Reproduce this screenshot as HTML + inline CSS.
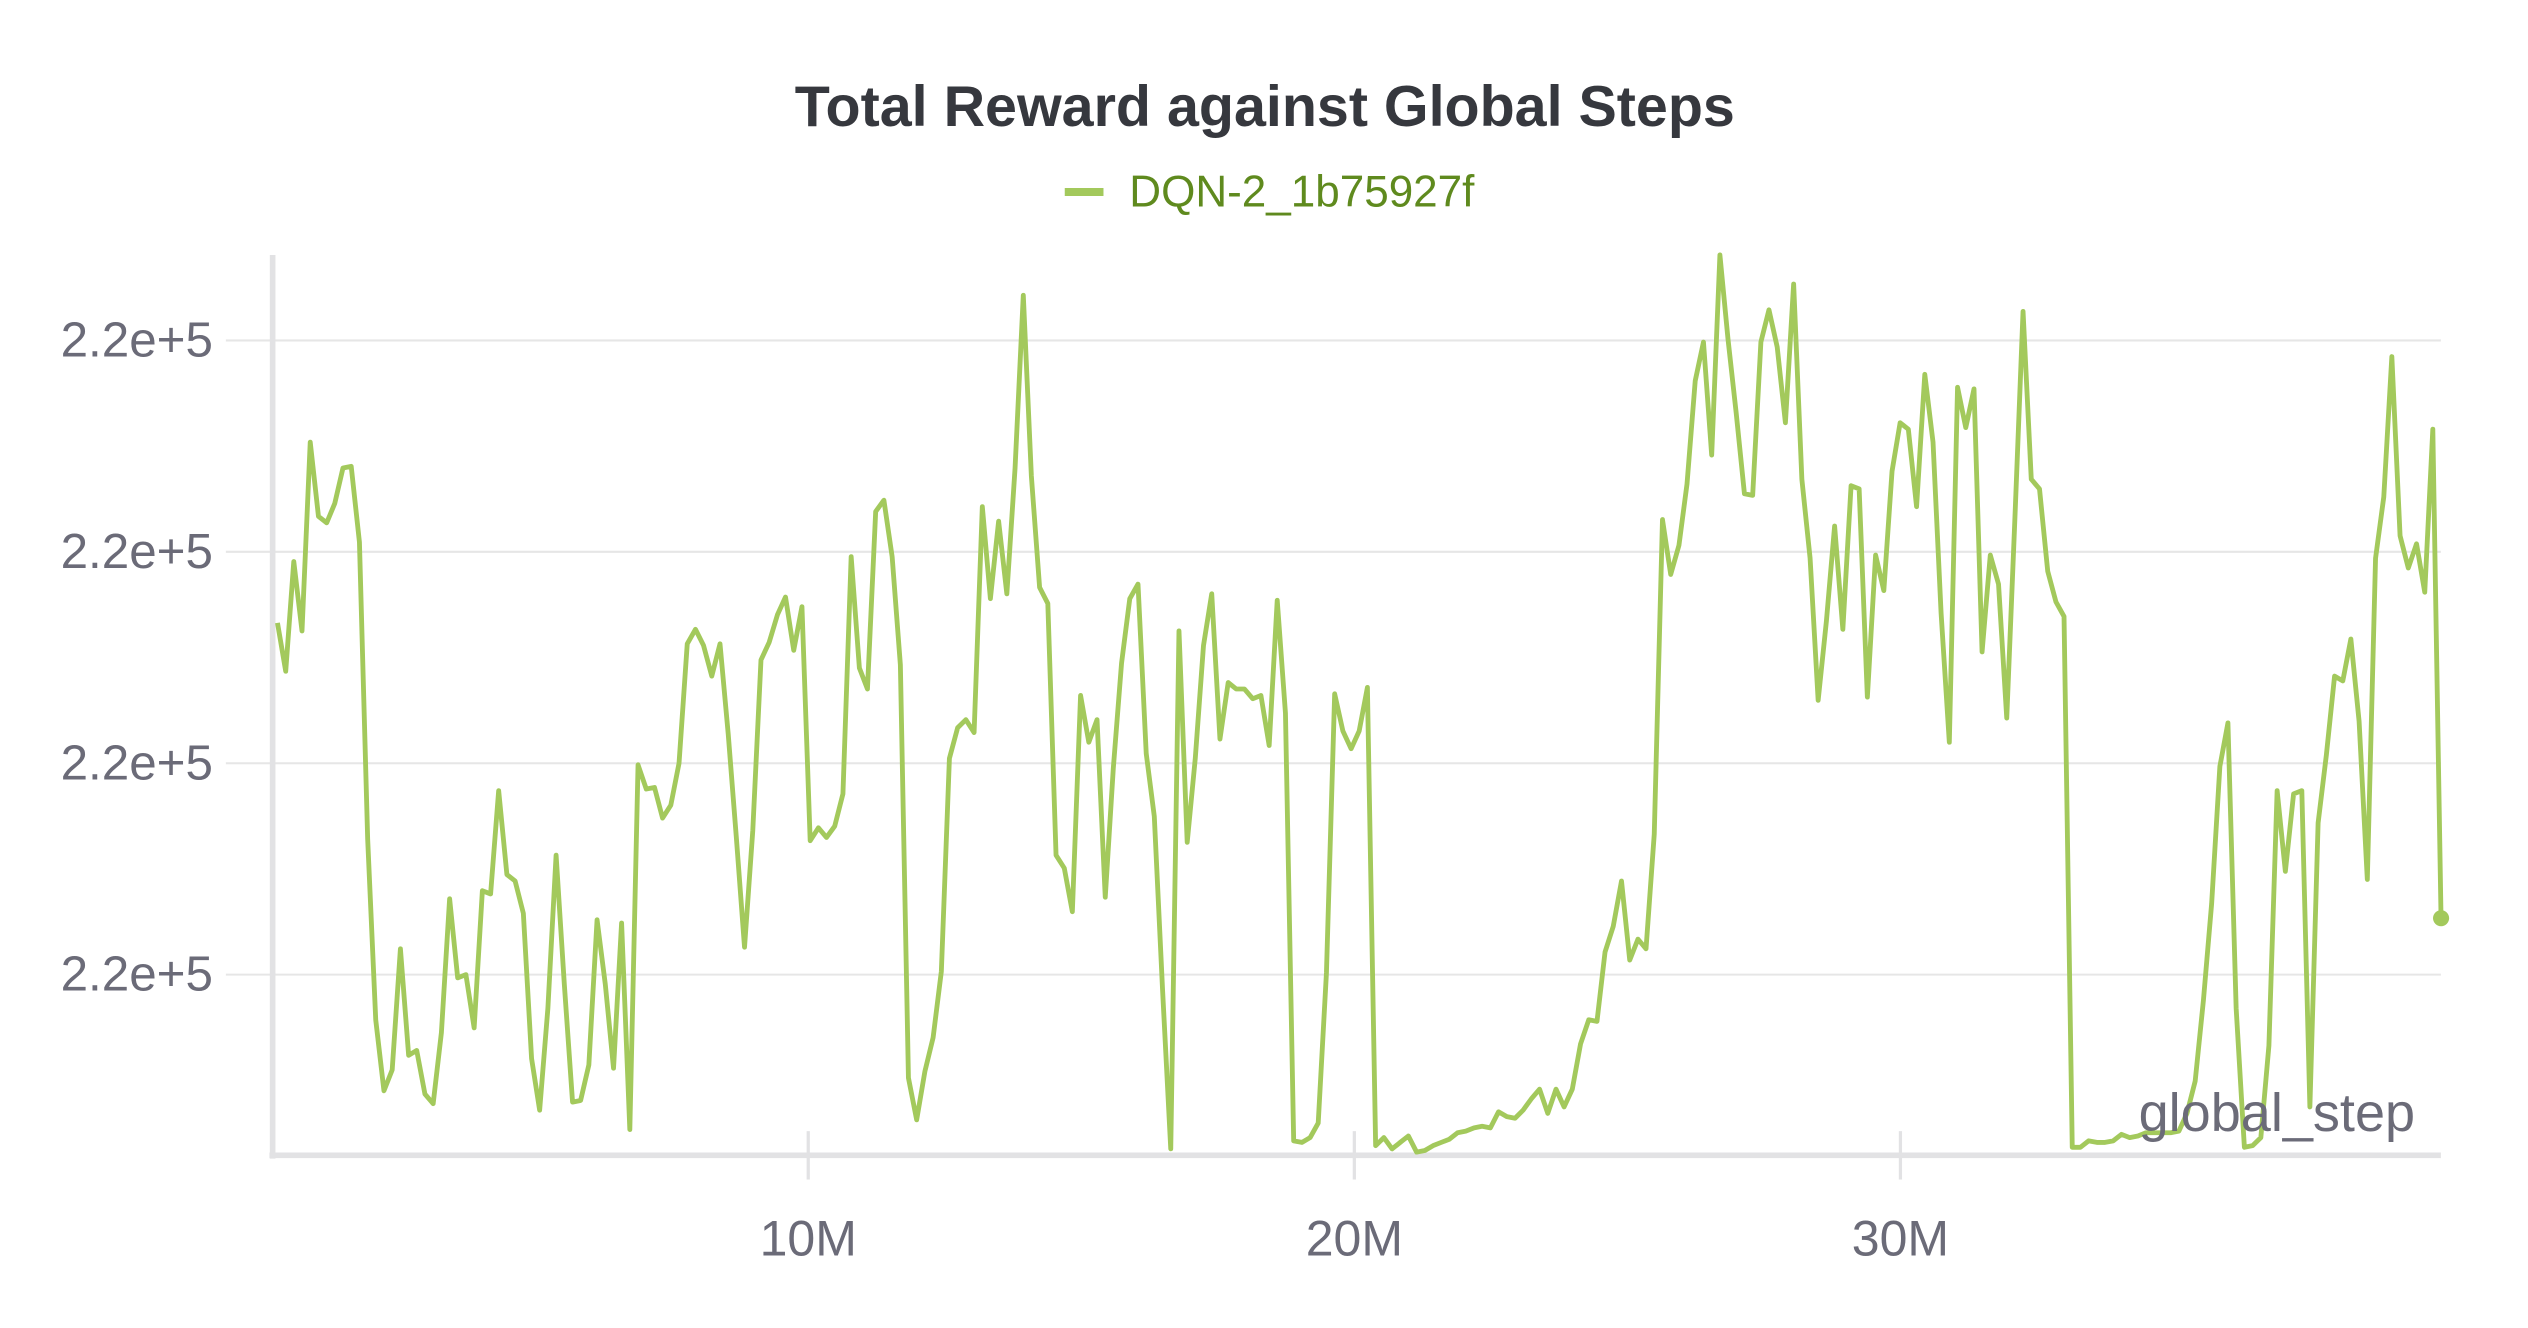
<!DOCTYPE html>
<html><head><meta charset="utf-8"><style>
html,body{margin:0;padding:0;background:#fff;}
svg{display:block;}
text{font-family:"Liberation Sans",sans-serif;}
</style></head><body>
<svg id="chart" width="2528" height="1328" viewBox="0 0 1567 823" preserveAspectRatio="none">
<text x="784" y="78" text-anchor="middle" font-size="35.6" font-weight="bold" fill="#36383e">Total Reward against Global Steps</text>
<g>
<line x1="660" y1="119" x2="684" y2="119" stroke="#a3c95c" stroke-width="5"/>
<text x="700" y="128" font-size="27.3" fill="#5f8a1e">DQN-2_1b75927f</text>
</g>
<g id="grid"></g>
<g id="axes"></g>
<g id="series"></g>
<text x="1497" y="701" text-anchor="end" font-size="33.5" fill="#6b6b78">global_step</text>
</svg>
<script>
const rewards = [330,300,368,325,442,396,392,404,426,427,380,196,84,40,53,128,62,65,38,32,76,159,110,112,79,164,162,226,174,170,150,60,28,91,186,106,33,34,56,146,106,54,144,16,242,227,228,209,217,243,317,326,316,297,317,261,196,129,201,307,318,335,346,313,340,195,203,197,204,224,371,302,289,399,406,371,304,48,22,52,73,114,246,265,270,262,402,345,393,348,426,533,421,352,342,186,178,151,285,256,270,160,240,305,345,354,249,210,103,4,325,194,246,316,348,258,293,289,289,283,285,254,344,274,9,8,11,20,113,286,263,252,263,290,6,11,4,8,12,2,3,6,8,10,14,15,17,18,17,27,24,23,28,35,41,26,41,30,41,69,84,83,126,142,170,121,134,128,199,394,360,378,416,480,504,434,558,506,460,410,409,504,524,501,454,540,419,370,282,331,390,326,415,413,284,372,350,424,454,450,402,484,442,336,256,476,451,475,312,372,354,271,396,523,419,413,362,343,334,5,5,9,8,8,9,13,11,12,14,14,14,14,15,26,46,96,156,241,268,91,5,6,11,68,226,176,224,226,30,206,248,297,294,320,269,171,370,408,495,384,364,379,349,450,147];
const stepStart = 0.28;   // millions
const stepEnd = 39.9;     // millions
const yTicks = [112,243,374,505];
const yTickLabels = ["2.2e+5","2.2e+5","2.2e+5","2.2e+5"];
const xTicks = [10,20,30];
const xTickLabels = ["10M","20M","30M"];

const NS="http://www.w3.org/2000/svg";
const X0=162.5, XPM=33.85, Y0=716;
function xs(m){return X0+m*XPM;}
function ys(v){return Y0-v;}
function mk(tag,attrs,parent){const e=document.createElementNS(NS,tag);for(const k in attrs)e.setAttribute(k,attrs[k]);parent.appendChild(e);return e;}
const grid=document.getElementById('grid'), axes=document.getElementById('axes'), series=document.getElementById('series');
yTicks.forEach((t,i)=>{
  const l=mk('line',{x1:140,x2:1513,y1:ys(t),y2:ys(t),stroke:'#e6e6e6','stroke-width':1.3},grid);
  
  
  const tx=mk('text',{x:132,y:ys(t)+10,'text-anchor':'end','font-size':30.6,fill:'#6b6b78'},axes);
  tx.textContent=yTickLabels[i];
  
  
});
const la=mk('line',{x1:169,x2:169,y1:158,y2:718,stroke:'#e2e2e4','stroke-width':3.5},axes);


const ba=mk('line',{x1:167,x2:1513,y1:716,y2:716,stroke:'#e2e2e4','stroke-width':3.5},axes);


xTicks.forEach((t,i)=>{
  const tk=mk('line',{x1:xs(t),x2:xs(t),y1:701,y2:731,stroke:'#e2e2e4','stroke-width':2},axes);
  
  
  const tx=mk('text',{x:xs(t),y:778,'text-anchor':'middle','font-size':31,fill:'#6b6b78'},axes);
  tx.textContent=xTickLabels[i];
  
  
});
const n=rewards.length;
const pts=rewards.map((v,i)=>{const m=stepStart+(stepEnd-stepStart)*i/(n-1);return xs(m).toFixed(1)+','+ys(v).toFixed(1);});
const pl=mk('polyline',{points:pts.join(' '),fill:'none',stroke:'#a3c95c','stroke-width':3,'stroke-linejoin':'round'},series);


const last=rewards[n-1];
const dot=mk('circle',{cx:xs(stepEnd),cy:ys(last),r:5,fill:'#a3c95c'},series);


</script>
</body></html>
